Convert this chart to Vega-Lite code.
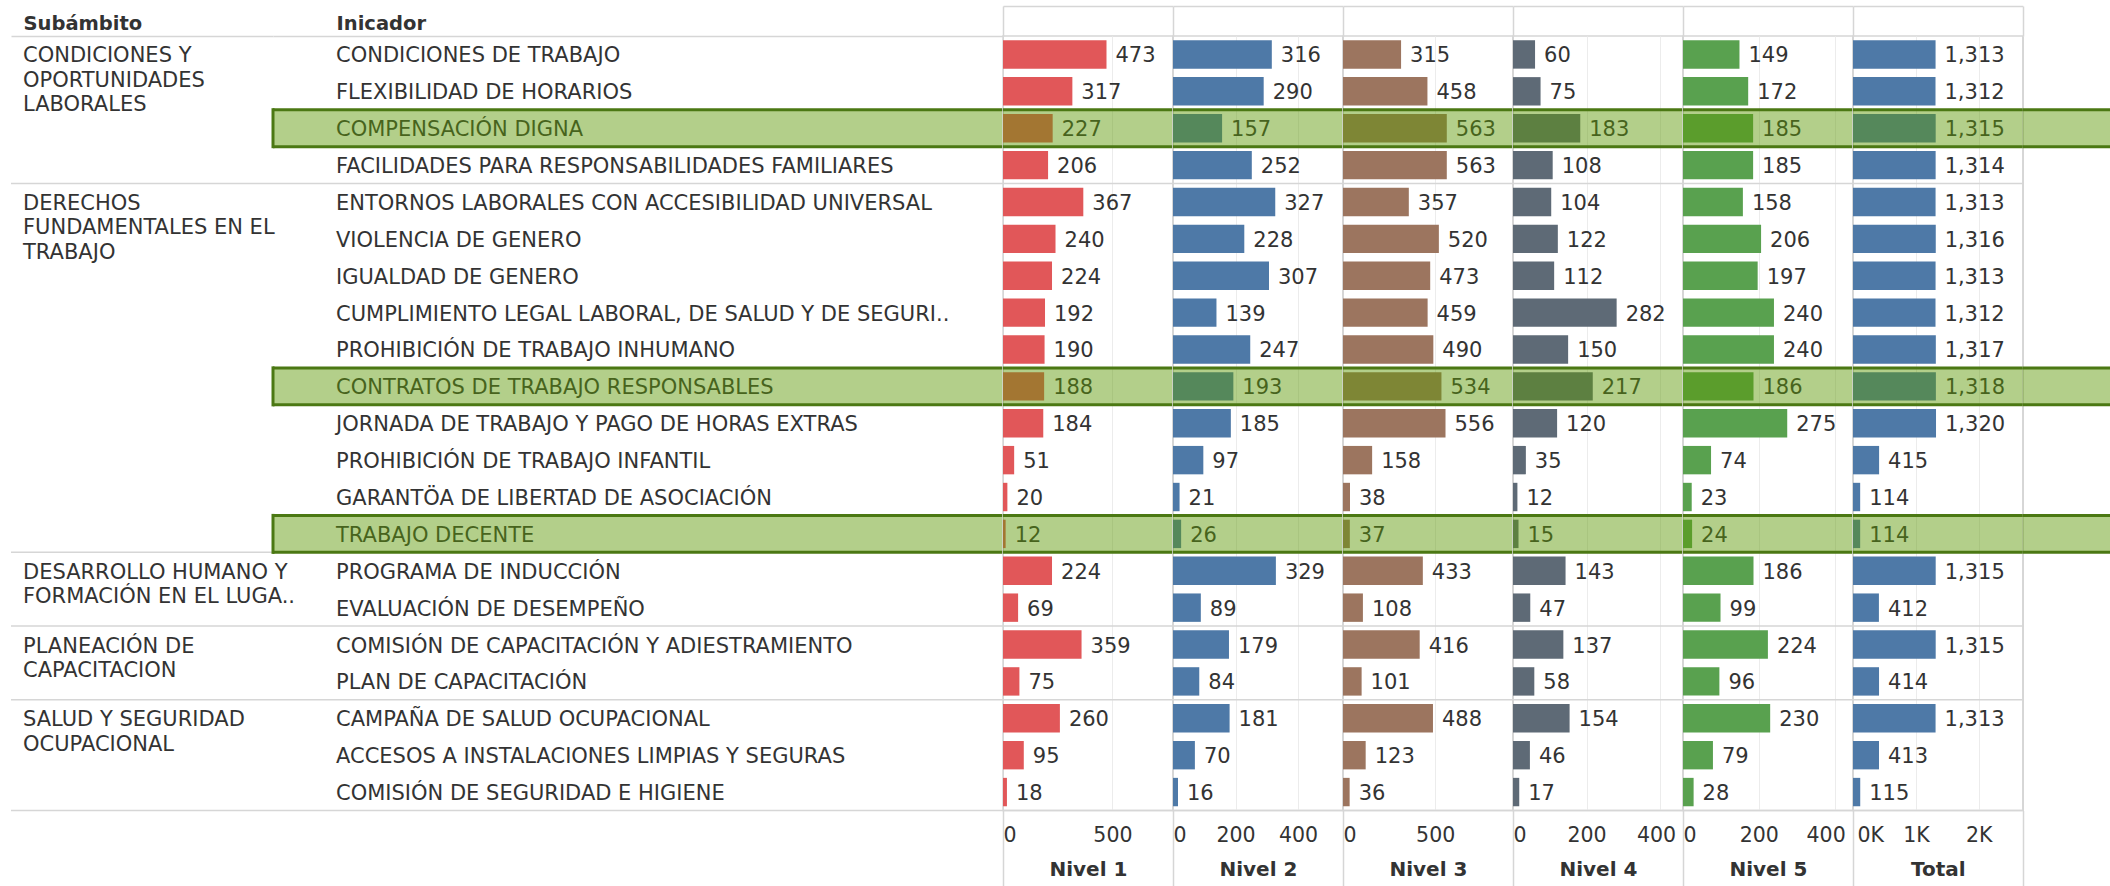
{
  "$schema": "https://vega.github.io/schema/vega-lite/v6.json",
  "background": "white",
  "padding": {"left": 10, "top": 4, "right": 0, "bottom": 0},
  "spacing": 0,
  "bounds": "flush",
  "datasets": {
    "d": [
      {"sub": "CONDICIONES Y\nOPORTUNIDADES\nLABORALES", "ind": "CONDICIONES DE TRABAJO", "n1": 473, "n2": 316, "n3": 315, "n4": 60, "n5": 149, "total": 1313},
      {"sub": "CONDICIONES Y\nOPORTUNIDADES\nLABORALES", "ind": "FLEXIBILIDAD DE HORARIOS", "n1": 317, "n2": 290, "n3": 458, "n4": 75, "n5": 172, "total": 1312},
      {"sub": "CONDICIONES Y\nOPORTUNIDADES\nLABORALES", "ind": "COMPENSACIÓN DIGNA", "n1": 227, "n2": 157, "n3": 563, "n4": 183, "n5": 185, "total": 1315},
      {"sub": "CONDICIONES Y\nOPORTUNIDADES\nLABORALES", "ind": "FACILIDADES PARA RESPONSABILIDADES FAMILIARES", "n1": 206, "n2": 252, "n3": 563, "n4": 108, "n5": 185, "total": 1314},
      {"sub": "DERECHOS\nFUNDAMENTALES EN EL\nTRABAJO", "ind": "ENTORNOS LABORALES CON ACCESIBILIDAD UNIVERSAL", "n1": 367, "n2": 327, "n3": 357, "n4": 104, "n5": 158, "total": 1313},
      {"sub": "DERECHOS\nFUNDAMENTALES EN EL\nTRABAJO", "ind": "VIOLENCIA DE GENERO", "n1": 240, "n2": 228, "n3": 520, "n4": 122, "n5": 206, "total": 1316},
      {"sub": "DERECHOS\nFUNDAMENTALES EN EL\nTRABAJO", "ind": "IGUALDAD DE GENERO", "n1": 224, "n2": 307, "n3": 473, "n4": 112, "n5": 197, "total": 1313},
      {"sub": "DERECHOS\nFUNDAMENTALES EN EL\nTRABAJO", "ind": "CUMPLIMIENTO LEGAL LABORAL, DE SALUD Y DE SEGURI..", "n1": 192, "n2": 139, "n3": 459, "n4": 282, "n5": 240, "total": 1312},
      {"sub": "DERECHOS\nFUNDAMENTALES EN EL\nTRABAJO", "ind": "PROHIBICIÓN DE TRABAJO INHUMANO", "n1": 190, "n2": 247, "n3": 490, "n4": 150, "n5": 240, "total": 1317},
      {"sub": "DERECHOS\nFUNDAMENTALES EN EL\nTRABAJO", "ind": "CONTRATOS DE TRABAJO RESPONSABLES", "n1": 188, "n2": 193, "n3": 534, "n4": 217, "n5": 186, "total": 1318},
      {"sub": "DERECHOS\nFUNDAMENTALES EN EL\nTRABAJO", "ind": "JORNADA DE TRABAJO Y PAGO DE HORAS EXTRAS", "n1": 184, "n2": 185, "n3": 556, "n4": 120, "n5": 275, "total": 1320},
      {"sub": "DERECHOS\nFUNDAMENTALES EN EL\nTRABAJO", "ind": "PROHIBICIÓN DE TRABAJO INFANTIL", "n1": 51, "n2": 97, "n3": 158, "n4": 35, "n5": 74, "total": 415},
      {"sub": "DERECHOS\nFUNDAMENTALES EN EL\nTRABAJO", "ind": "GARANTÖA DE LIBERTAD DE ASOCIACIÓN", "n1": 20, "n2": 21, "n3": 38, "n4": 12, "n5": 23, "total": 114},
      {"sub": "DERECHOS\nFUNDAMENTALES EN EL\nTRABAJO", "ind": "TRABAJO DECENTE", "n1": 12, "n2": 26, "n3": 37, "n4": 15, "n5": 24, "total": 114},
      {"sub": "DESARROLLO HUMANO Y\nFORMACIÓN EN EL LUGA..", "ind": "PROGRAMA DE INDUCCIÓN", "n1": 224, "n2": 329, "n3": 433, "n4": 143, "n5": 186, "total": 1315},
      {"sub": "DESARROLLO HUMANO Y\nFORMACIÓN EN EL LUGA..", "ind": "EVALUACIÓN DE DESEMPEÑO", "n1": 69, "n2": 89, "n3": 108, "n4": 47, "n5": 99, "total": 412},
      {"sub": "PLANEACIÓN DE\nCAPACITACION", "ind": "COMISIÓN DE CAPACITACIÓN Y ADIESTRAMIENTO", "n1": 359, "n2": 179, "n3": 416, "n4": 137, "n5": 224, "total": 1315},
      {"sub": "PLANEACIÓN DE\nCAPACITACION", "ind": "PLAN DE CAPACITACIÓN", "n1": 75, "n2": 84, "n3": 101, "n4": 58, "n5": 96, "total": 414},
      {"sub": "SALUD Y SEGURIDAD\nOCUPACIONAL", "ind": "CAMPAÑA DE SALUD OCUPACIONAL", "n1": 260, "n2": 181, "n3": 488, "n4": 154, "n5": 230, "total": 1313},
      {"sub": "SALUD Y SEGURIDAD\nOCUPACIONAL", "ind": "ACCESOS A INSTALACIONES LIMPIAS Y SEGURAS", "n1": 95, "n2": 70, "n3": 123, "n4": 46, "n5": 79, "total": 413},
      {"sub": "SALUD Y SEGURIDAD\nOCUPACIONAL", "ind": "COMISIÓN DE SEGURIDAD E HIGIENE", "n1": 18, "n2": 16, "n3": 36, "n4": 17, "n5": 28, "total": 115}
    ]
  },
  "data": {"name": "d"},
  "hconcat": [
    {
      "width": 262, "height": 774.5,
      "transform": [
        {"window": [{"op": "row_number", "as": "rn"}], "groupby": ["sub"]},
        {"joinaggregate": [{"op": "count", "as": "cnt"}], "groupby": ["sub"]}
      ],
      "layer": [
        {
          "mark": {"type": "text", "align": "left", "baseline": "alphabetic", "dx": 12, "dy": 8, "lineBreak": "\n", "lineHeight": 24.5, "font": "DejaVu Sans", "fontSize": 21, "color": "#333"},
          "encoding": {
            "x": {"datum": "Subámbito", "type": "nominal", "bandPosition": 0, "scale": {"type": "band", "paddingInner": 0, "paddingOuter": 0},
                  "axis": {"orient": "top", "title": "Subámbito", "titleAnchor": "start", "titleAlign": "left", "titleX": 12, "titleY": -7, "titleBaseline": "alphabetic", "titleFont": "DejaVu Sans", "titleFontWeight": "bold", "titleFontSize": 19.5, "titleColor": "#333", "labels": false, "ticks": false, "domain": true, "domainColor": "#d6d6d6", "domainWidth": 1.5}},
            "y": {"field": "ind", "type": "nominal", "sort": null, "axis": null, "scale": {"paddingInner": 0, "paddingOuter": 0}},
            "text": {"condition": {"test": "datum.rn === 1", "field": "sub"}, "value": ""}
          }
        },
        {
          "mark": {"type": "rule", "color": "#d6d6d6", "strokeWidth": 1.5},
          "encoding": {
            "y": {"field": "ind", "type": "nominal", "sort": null, "bandPosition": 1, "axis": null, "scale": {"paddingInner": 0, "paddingOuter": 0}},
            "strokeOpacity": {"condition": {"test": "datum.rn === datum.cnt", "value": 1}, "value": 0}
          }
        }
      ]
    },
    {
      "width": 730, "height": 774.5,
      "transform": [
        {"window": [{"op": "row_number", "as": "rn"}], "groupby": ["sub"]},
        {"joinaggregate": [{"op": "count", "as": "cnt"}], "groupby": ["sub"]}
      ],
      "layer": [
        {
          "mark": {"type": "text", "align": "left", "baseline": "alphabetic", "dx": 63, "dy": 8, "font": "DejaVu Sans", "fontSize": 21, "color": "#333"},
          "encoding": {
            "x": {"datum": "Inicador", "type": "nominal", "bandPosition": 0, "scale": {"type": "band", "paddingInner": 0, "paddingOuter": 0},
                  "axis": {"orient": "top", "title": "Inicador", "titleAnchor": "start", "titleAlign": "left", "titleX": 63, "titleY": -7, "titleBaseline": "alphabetic", "titleFont": "DejaVu Sans", "titleFontWeight": "bold", "titleFontSize": 19.5, "titleColor": "#333", "labels": false, "ticks": false, "domain": true, "domainColor": "#d6d6d6", "domainWidth": 1.5}},
            "y": {"field": "ind", "type": "nominal", "sort": null, "axis": null, "scale": {"paddingInner": 0, "paddingOuter": 0}},
            "text": {"field": "ind", "type": "nominal"}
          }
        },
        {
          "mark": {"type": "rule", "color": "#d6d6d6", "strokeWidth": 1.5},
          "encoding": {
            "y": {"field": "ind", "type": "nominal", "sort": null, "bandPosition": 1, "axis": null, "scale": {"paddingInner": 0, "paddingOuter": 0}},
            "strokeOpacity": {"condition": {"test": "datum.rn === datum.cnt", "value": 1}, "value": 0}
          }
        },
        {
          "mark": {"type": "rect", "color": "#5e9906"},
          "encoding": {
            "y": {"field": "ind", "type": "nominal", "sort": null, "axis": null, "scale": {"paddingInner": 0, "paddingOuter": 0}},
            "fillOpacity": {"condition": {"test": {"field": "ind", "oneOf": ["COMPENSACIÓN DIGNA", "CONTRATOS DE TRABAJO RESPONSABLES", "TRABAJO DECENTE"]}, "value": 0.47}, "value": 0}
          }
        },
        {
          "mark": {"type": "rule", "color": "#4b7813", "strokeWidth": 3},
          "encoding": {
            "y": {"field": "ind", "type": "nominal", "sort": null, "bandPosition": 0, "axis": null, "scale": {"paddingInner": 0, "paddingOuter": 0}},
            "strokeOpacity": {"condition": {"test": {"field": "ind", "oneOf": ["COMPENSACIÓN DIGNA", "CONTRATOS DE TRABAJO RESPONSABLES", "TRABAJO DECENTE"]}, "value": 1}, "value": 0}
          }
        },
        {
          "mark": {"type": "rule", "color": "#4b7813", "strokeWidth": 3},
          "encoding": {
            "y": {"field": "ind", "type": "nominal", "sort": null, "bandPosition": 1, "axis": null, "scale": {"paddingInner": 0, "paddingOuter": 0}},
            "strokeOpacity": {"condition": {"test": {"field": "ind", "oneOf": ["COMPENSACIÓN DIGNA", "CONTRATOS DE TRABAJO RESPONSABLES", "TRABAJO DECENTE"]}, "value": 1}, "value": 0}
          }
        },
        {
          "mark": {"type": "tick", "orient": "vertical", "color": "#4b7813", "thickness": 3, "size": 40},
          "encoding": {
            "x": {"datum": "Inicador", "type": "nominal", "bandPosition": 0, "scale": {"type": "band", "paddingInner": 0, "paddingOuter": 0},
                  "axis": {"orient": "top", "title": "Inicador", "titleAnchor": "start", "titleAlign": "left", "titleX": 63, "titleY": -7, "titleBaseline": "alphabetic", "titleFont": "DejaVu Sans", "titleFontWeight": "bold", "titleFontSize": 19.5, "titleColor": "#333", "labels": false, "ticks": false, "domain": true, "domainColor": "#d6d6d6", "domainWidth": 1.5}},
            "y": {"field": "ind", "type": "nominal", "sort": null, "axis": null, "scale": {"paddingInner": 0, "paddingOuter": 0}},
            "opacity": {"condition": {"test": {"field": "ind", "oneOf": ["COMPENSACIÓN DIGNA", "CONTRATOS DE TRABAJO RESPONSABLES", "TRABAJO DECENTE"]}, "value": 1}, "value": 0}
          }
        }
      ]
    },
    {
      "width": 169.8, "height": 774.5,
      "view": {"stroke": "#d6d6d6", "strokeWidth": 1.5},
      "transform": [
        {"window": [{"op": "row_number", "as": "rn"}], "groupby": ["sub"]},
        {"joinaggregate": [{"op": "count", "as": "cnt"}], "groupby": ["sub"]}
      ],
      "resolve": {"axis": {"x": "independent"}},
      "layer": [
        {
          "mark": {"type": "bar", "color": "#e15759", "height": {"band": 0.77}},
          "encoding": {
            "y": {"field": "ind", "type": "nominal", "sort": null, "axis": null, "scale": {"paddingInner": 0, "paddingOuter": 0}},
            "x": {"field": "n1", "type": "quantitative", "scale": {"domain": [0, 776], "nice": false},
                  "axis": {"orient": "bottom", "values": [0, 500], "title": "Nivel 1", "titleFontWeight": "bold", "titleFontSize": 20, "titleColor": "#333", "titleY": 59, "titleBaseline": "middle", "labelFontSize": 20.5, "labelColor": "#333", "labelPadding": -62, "labelAlign": {"condition": {"test": "datum.value === 0", "value": "left"}, "value": "center"}, "domain": false, "ticks": true, "tickSize": 77, "tickWidth": 1.5, "tickColor": {"condition": {"test": "datum.value === 0", "value": "#d6d6d6"}, "value": "transparent"}, "grid": true, "gridColor": {"condition": {"test": "datum.value === 0", "value": "#d6d6d6"}, "value": "#ececec"}}}
          }
        },
        {
          "mark": {"type": "text", "align": "left", "baseline": "alphabetic", "dx": 9, "dy": 8, "font": "DejaVu Sans", "fontSize": 21, "color": "#333"},
          "encoding": {
            "y": {"field": "ind", "type": "nominal", "sort": null, "axis": null, "scale": {"paddingInner": 0, "paddingOuter": 0}},
            "x": {"field": "n1", "type": "quantitative", "scale": {"domain": [0, 776], "nice": false},
                  "axis": {"orient": "top", "values": [0], "labels": false, "title": null, "grid": false, "domain": true, "domainColor": "#d6d6d6", "domainWidth": 1.5, "offset": 30, "ticks": true, "tickSize": -30, "tickWidth": 1.5, "tickColor": "#d6d6d6"}},
            "text": {"field": "n1", "type": "quantitative", "format": ","}
          }
        },
        {
          "mark": {"type": "rule", "color": "#d6d6d6", "strokeWidth": 1.5},
          "encoding": {
            "y": {"field": "ind", "type": "nominal", "sort": null, "bandPosition": 1, "axis": null, "scale": {"paddingInner": 0, "paddingOuter": 0}},
            "strokeOpacity": {"condition": {"test": "datum.rn === datum.cnt", "value": 1}, "value": 0}
          }
        },
        {
          "mark": {"type": "rect", "color": "#5e9906"},
          "encoding": {
            "y": {"field": "ind", "type": "nominal", "sort": null, "axis": null, "scale": {"paddingInner": 0, "paddingOuter": 0}},
            "fillOpacity": {"condition": {"test": {"field": "ind", "oneOf": ["COMPENSACIÓN DIGNA", "CONTRATOS DE TRABAJO RESPONSABLES", "TRABAJO DECENTE"]}, "value": 0.47}, "value": 0}
          }
        },
        {
          "mark": {"type": "rule", "color": "#4b7813", "strokeWidth": 3},
          "encoding": {
            "y": {"field": "ind", "type": "nominal", "sort": null, "bandPosition": 0, "axis": null, "scale": {"paddingInner": 0, "paddingOuter": 0}},
            "strokeOpacity": {"condition": {"test": {"field": "ind", "oneOf": ["COMPENSACIÓN DIGNA", "CONTRATOS DE TRABAJO RESPONSABLES", "TRABAJO DECENTE"]}, "value": 1}, "value": 0}
          }
        },
        {
          "mark": {"type": "rule", "color": "#4b7813", "strokeWidth": 3},
          "encoding": {
            "y": {"field": "ind", "type": "nominal", "sort": null, "bandPosition": 1, "axis": null, "scale": {"paddingInner": 0, "paddingOuter": 0}},
            "strokeOpacity": {"condition": {"test": {"field": "ind", "oneOf": ["COMPENSACIÓN DIGNA", "CONTRATOS DE TRABAJO RESPONSABLES", "TRABAJO DECENTE"]}, "value": 1}, "value": 0}
          }
        }
      ]
    },
    {
      "width": 169.8, "height": 774.5,
      "view": {"stroke": "#d6d6d6", "strokeWidth": 1.5},
      "transform": [
        {"window": [{"op": "row_number", "as": "rn"}], "groupby": ["sub"]},
        {"joinaggregate": [{"op": "count", "as": "cnt"}], "groupby": ["sub"]}
      ],
      "resolve": {"axis": {"x": "independent"}},
      "layer": [
        {
          "mark": {"type": "bar", "color": "#4e79a7", "height": {"band": 0.77}},
          "encoding": {
            "y": {"field": "ind", "type": "nominal", "sort": null, "axis": null, "scale": {"paddingInner": 0, "paddingOuter": 0}},
            "x": {"field": "n2", "type": "quantitative", "scale": {"domain": [0, 543], "nice": false},
                  "axis": {"orient": "bottom", "values": [0, 200, 400], "title": "Nivel 2", "titleFontWeight": "bold", "titleFontSize": 20, "titleColor": "#333", "titleY": 59, "titleBaseline": "middle", "labelFontSize": 20.5, "labelColor": "#333", "labelPadding": -62, "labelAlign": {"condition": {"test": "datum.value === 0", "value": "left"}, "value": "center"}, "domain": false, "ticks": true, "tickSize": 77, "tickWidth": 1.5, "tickColor": {"condition": {"test": "datum.value === 0", "value": "#d6d6d6"}, "value": "transparent"}, "grid": true, "gridColor": {"condition": {"test": "datum.value === 0", "value": "#d6d6d6"}, "value": "#ececec"}}}
          }
        },
        {
          "mark": {"type": "text", "align": "left", "baseline": "alphabetic", "dx": 9, "dy": 8, "font": "DejaVu Sans", "fontSize": 21, "color": "#333"},
          "encoding": {
            "y": {"field": "ind", "type": "nominal", "sort": null, "axis": null, "scale": {"paddingInner": 0, "paddingOuter": 0}},
            "x": {"field": "n2", "type": "quantitative", "scale": {"domain": [0, 543], "nice": false},
                  "axis": {"orient": "top", "values": [0], "labels": false, "title": null, "grid": false, "domain": true, "domainColor": "#d6d6d6", "domainWidth": 1.5, "offset": 30, "ticks": true, "tickSize": -30, "tickWidth": 1.5, "tickColor": "#d6d6d6"}},
            "text": {"field": "n2", "type": "quantitative", "format": ","}
          }
        },
        {
          "mark": {"type": "rule", "color": "#d6d6d6", "strokeWidth": 1.5},
          "encoding": {
            "y": {"field": "ind", "type": "nominal", "sort": null, "bandPosition": 1, "axis": null, "scale": {"paddingInner": 0, "paddingOuter": 0}},
            "strokeOpacity": {"condition": {"test": "datum.rn === datum.cnt", "value": 1}, "value": 0}
          }
        },
        {
          "mark": {"type": "rect", "color": "#5e9906"},
          "encoding": {
            "y": {"field": "ind", "type": "nominal", "sort": null, "axis": null, "scale": {"paddingInner": 0, "paddingOuter": 0}},
            "fillOpacity": {"condition": {"test": {"field": "ind", "oneOf": ["COMPENSACIÓN DIGNA", "CONTRATOS DE TRABAJO RESPONSABLES", "TRABAJO DECENTE"]}, "value": 0.47}, "value": 0}
          }
        },
        {
          "mark": {"type": "rule", "color": "#4b7813", "strokeWidth": 3},
          "encoding": {
            "y": {"field": "ind", "type": "nominal", "sort": null, "bandPosition": 0, "axis": null, "scale": {"paddingInner": 0, "paddingOuter": 0}},
            "strokeOpacity": {"condition": {"test": {"field": "ind", "oneOf": ["COMPENSACIÓN DIGNA", "CONTRATOS DE TRABAJO RESPONSABLES", "TRABAJO DECENTE"]}, "value": 1}, "value": 0}
          }
        },
        {
          "mark": {"type": "rule", "color": "#4b7813", "strokeWidth": 3},
          "encoding": {
            "y": {"field": "ind", "type": "nominal", "sort": null, "bandPosition": 1, "axis": null, "scale": {"paddingInner": 0, "paddingOuter": 0}},
            "strokeOpacity": {"condition": {"test": {"field": "ind", "oneOf": ["COMPENSACIÓN DIGNA", "CONTRATOS DE TRABAJO RESPONSABLES", "TRABAJO DECENTE"]}, "value": 1}, "value": 0}
          }
        }
      ]
    },
    {
      "width": 169.8, "height": 774.5,
      "view": {"stroke": "#d6d6d6", "strokeWidth": 1.5},
      "transform": [
        {"window": [{"op": "row_number", "as": "rn"}], "groupby": ["sub"]},
        {"joinaggregate": [{"op": "count", "as": "cnt"}], "groupby": ["sub"]}
      ],
      "resolve": {"axis": {"x": "independent"}},
      "layer": [
        {
          "mark": {"type": "bar", "color": "#9c755f", "height": {"band": 0.77}},
          "encoding": {
            "y": {"field": "ind", "type": "nominal", "sort": null, "axis": null, "scale": {"paddingInner": 0, "paddingOuter": 0}},
            "x": {"field": "n3", "type": "quantitative", "scale": {"domain": [0, 921], "nice": false},
                  "axis": {"orient": "bottom", "values": [0, 500], "title": "Nivel 3", "titleFontWeight": "bold", "titleFontSize": 20, "titleColor": "#333", "titleY": 59, "titleBaseline": "middle", "labelFontSize": 20.5, "labelColor": "#333", "labelPadding": -62, "labelAlign": {"condition": {"test": "datum.value === 0", "value": "left"}, "value": "center"}, "domain": false, "ticks": true, "tickSize": 77, "tickWidth": 1.5, "tickColor": {"condition": {"test": "datum.value === 0", "value": "#d6d6d6"}, "value": "transparent"}, "grid": true, "gridColor": {"condition": {"test": "datum.value === 0", "value": "#d6d6d6"}, "value": "#ececec"}}}
          }
        },
        {
          "mark": {"type": "text", "align": "left", "baseline": "alphabetic", "dx": 9, "dy": 8, "font": "DejaVu Sans", "fontSize": 21, "color": "#333"},
          "encoding": {
            "y": {"field": "ind", "type": "nominal", "sort": null, "axis": null, "scale": {"paddingInner": 0, "paddingOuter": 0}},
            "x": {"field": "n3", "type": "quantitative", "scale": {"domain": [0, 921], "nice": false},
                  "axis": {"orient": "top", "values": [0], "labels": false, "title": null, "grid": false, "domain": true, "domainColor": "#d6d6d6", "domainWidth": 1.5, "offset": 30, "ticks": true, "tickSize": -30, "tickWidth": 1.5, "tickColor": "#d6d6d6"}},
            "text": {"field": "n3", "type": "quantitative", "format": ","}
          }
        },
        {
          "mark": {"type": "rule", "color": "#d6d6d6", "strokeWidth": 1.5},
          "encoding": {
            "y": {"field": "ind", "type": "nominal", "sort": null, "bandPosition": 1, "axis": null, "scale": {"paddingInner": 0, "paddingOuter": 0}},
            "strokeOpacity": {"condition": {"test": "datum.rn === datum.cnt", "value": 1}, "value": 0}
          }
        },
        {
          "mark": {"type": "rect", "color": "#5e9906"},
          "encoding": {
            "y": {"field": "ind", "type": "nominal", "sort": null, "axis": null, "scale": {"paddingInner": 0, "paddingOuter": 0}},
            "fillOpacity": {"condition": {"test": {"field": "ind", "oneOf": ["COMPENSACIÓN DIGNA", "CONTRATOS DE TRABAJO RESPONSABLES", "TRABAJO DECENTE"]}, "value": 0.47}, "value": 0}
          }
        },
        {
          "mark": {"type": "rule", "color": "#4b7813", "strokeWidth": 3},
          "encoding": {
            "y": {"field": "ind", "type": "nominal", "sort": null, "bandPosition": 0, "axis": null, "scale": {"paddingInner": 0, "paddingOuter": 0}},
            "strokeOpacity": {"condition": {"test": {"field": "ind", "oneOf": ["COMPENSACIÓN DIGNA", "CONTRATOS DE TRABAJO RESPONSABLES", "TRABAJO DECENTE"]}, "value": 1}, "value": 0}
          }
        },
        {
          "mark": {"type": "rule", "color": "#4b7813", "strokeWidth": 3},
          "encoding": {
            "y": {"field": "ind", "type": "nominal", "sort": null, "bandPosition": 1, "axis": null, "scale": {"paddingInner": 0, "paddingOuter": 0}},
            "strokeOpacity": {"condition": {"test": {"field": "ind", "oneOf": ["COMPENSACIÓN DIGNA", "CONTRATOS DE TRABAJO RESPONSABLES", "TRABAJO DECENTE"]}, "value": 1}, "value": 0}
          }
        }
      ]
    },
    {
      "width": 169.8, "height": 774.5,
      "view": {"stroke": "#d6d6d6", "strokeWidth": 1.5},
      "transform": [
        {"window": [{"op": "row_number", "as": "rn"}], "groupby": ["sub"]},
        {"joinaggregate": [{"op": "count", "as": "cnt"}], "groupby": ["sub"]}
      ],
      "resolve": {"axis": {"x": "independent"}},
      "layer": [
        {
          "mark": {"type": "bar", "color": "#5e6a76", "height": {"band": 0.77}},
          "encoding": {
            "y": {"field": "ind", "type": "nominal", "sort": null, "axis": null, "scale": {"paddingInner": 0, "paddingOuter": 0}},
            "x": {"field": "n4", "type": "quantitative", "scale": {"domain": [0, 462], "nice": false},
                  "axis": {"orient": "bottom", "values": [0, 200, 400], "title": "Nivel 4", "titleFontWeight": "bold", "titleFontSize": 20, "titleColor": "#333", "titleY": 59, "titleBaseline": "middle", "labelFontSize": 20.5, "labelColor": "#333", "labelPadding": -62, "labelAlign": {"condition": {"test": "datum.value === 0", "value": "left"}, "value": "center"}, "labelOffset": {"condition": {"test": "datum.value === 400", "value": -4}, "value": 0}, "domain": false, "ticks": true, "tickSize": 77, "tickWidth": 1.5, "tickColor": {"condition": {"test": "datum.value === 0", "value": "#d6d6d6"}, "value": "transparent"}, "grid": true, "gridColor": {"condition": {"test": "datum.value === 0", "value": "#d6d6d6"}, "value": "#ececec"}}}
          }
        },
        {
          "mark": {"type": "text", "align": "left", "baseline": "alphabetic", "dx": 9, "dy": 8, "font": "DejaVu Sans", "fontSize": 21, "color": "#333"},
          "encoding": {
            "y": {"field": "ind", "type": "nominal", "sort": null, "axis": null, "scale": {"paddingInner": 0, "paddingOuter": 0}},
            "x": {"field": "n4", "type": "quantitative", "scale": {"domain": [0, 462], "nice": false},
                  "axis": {"orient": "top", "values": [0], "labels": false, "title": null, "grid": false, "domain": true, "domainColor": "#d6d6d6", "domainWidth": 1.5, "offset": 30, "ticks": true, "tickSize": -30, "tickWidth": 1.5, "tickColor": "#d6d6d6"}},
            "text": {"field": "n4", "type": "quantitative", "format": ","}
          }
        },
        {
          "mark": {"type": "rule", "color": "#d6d6d6", "strokeWidth": 1.5},
          "encoding": {
            "y": {"field": "ind", "type": "nominal", "sort": null, "bandPosition": 1, "axis": null, "scale": {"paddingInner": 0, "paddingOuter": 0}},
            "strokeOpacity": {"condition": {"test": "datum.rn === datum.cnt", "value": 1}, "value": 0}
          }
        },
        {
          "mark": {"type": "rect", "color": "#5e9906"},
          "encoding": {
            "y": {"field": "ind", "type": "nominal", "sort": null, "axis": null, "scale": {"paddingInner": 0, "paddingOuter": 0}},
            "fillOpacity": {"condition": {"test": {"field": "ind", "oneOf": ["COMPENSACIÓN DIGNA", "CONTRATOS DE TRABAJO RESPONSABLES", "TRABAJO DECENTE"]}, "value": 0.47}, "value": 0}
          }
        },
        {
          "mark": {"type": "rule", "color": "#4b7813", "strokeWidth": 3},
          "encoding": {
            "y": {"field": "ind", "type": "nominal", "sort": null, "bandPosition": 0, "axis": null, "scale": {"paddingInner": 0, "paddingOuter": 0}},
            "strokeOpacity": {"condition": {"test": {"field": "ind", "oneOf": ["COMPENSACIÓN DIGNA", "CONTRATOS DE TRABAJO RESPONSABLES", "TRABAJO DECENTE"]}, "value": 1}, "value": 0}
          }
        },
        {
          "mark": {"type": "rule", "color": "#4b7813", "strokeWidth": 3},
          "encoding": {
            "y": {"field": "ind", "type": "nominal", "sort": null, "bandPosition": 1, "axis": null, "scale": {"paddingInner": 0, "paddingOuter": 0}},
            "strokeOpacity": {"condition": {"test": {"field": "ind", "oneOf": ["COMPENSACIÓN DIGNA", "CONTRATOS DE TRABAJO RESPONSABLES", "TRABAJO DECENTE"]}, "value": 1}, "value": 0}
          }
        }
      ]
    },
    {
      "width": 169.8, "height": 774.5,
      "view": {"stroke": "#d6d6d6", "strokeWidth": 1.5},
      "transform": [
        {"window": [{"op": "row_number", "as": "rn"}], "groupby": ["sub"]},
        {"joinaggregate": [{"op": "count", "as": "cnt"}], "groupby": ["sub"]}
      ],
      "resolve": {"axis": {"x": "independent"}},
      "layer": [
        {
          "mark": {"type": "bar", "color": "#59a14f", "height": {"band": 0.77}},
          "encoding": {
            "y": {"field": "ind", "type": "nominal", "sort": null, "axis": null, "scale": {"paddingInner": 0, "paddingOuter": 0}},
            "x": {"field": "n5", "type": "quantitative", "scale": {"domain": [0, 448], "nice": false},
                  "axis": {"orient": "bottom", "values": [0, 200, 400], "title": "Nivel 5", "titleFontWeight": "bold", "titleFontSize": 20, "titleColor": "#333", "titleY": 59, "titleBaseline": "middle", "labelFontSize": 20.5, "labelColor": "#333", "labelPadding": -62, "labelAlign": {"condition": {"test": "datum.value === 0", "value": "left"}, "value": "center"}, "labelOffset": {"condition": {"test": "datum.value === 400", "value": -9}, "value": 0}, "domain": false, "ticks": true, "tickSize": 77, "tickWidth": 1.5, "tickColor": {"condition": {"test": "datum.value === 0", "value": "#d6d6d6"}, "value": "transparent"}, "grid": true, "gridColor": {"condition": {"test": "datum.value === 0", "value": "#d6d6d6"}, "value": "#ececec"}}}
          }
        },
        {
          "mark": {"type": "text", "align": "left", "baseline": "alphabetic", "dx": 9, "dy": 8, "font": "DejaVu Sans", "fontSize": 21, "color": "#333"},
          "encoding": {
            "y": {"field": "ind", "type": "nominal", "sort": null, "axis": null, "scale": {"paddingInner": 0, "paddingOuter": 0}},
            "x": {"field": "n5", "type": "quantitative", "scale": {"domain": [0, 448], "nice": false},
                  "axis": {"orient": "top", "values": [0], "labels": false, "title": null, "grid": false, "domain": true, "domainColor": "#d6d6d6", "domainWidth": 1.5, "offset": 30, "ticks": true, "tickSize": -30, "tickWidth": 1.5, "tickColor": "#d6d6d6"}},
            "text": {"field": "n5", "type": "quantitative", "format": ","}
          }
        },
        {
          "mark": {"type": "rule", "color": "#d6d6d6", "strokeWidth": 1.5},
          "encoding": {
            "y": {"field": "ind", "type": "nominal", "sort": null, "bandPosition": 1, "axis": null, "scale": {"paddingInner": 0, "paddingOuter": 0}},
            "strokeOpacity": {"condition": {"test": "datum.rn === datum.cnt", "value": 1}, "value": 0}
          }
        },
        {
          "mark": {"type": "rect", "color": "#5e9906"},
          "encoding": {
            "y": {"field": "ind", "type": "nominal", "sort": null, "axis": null, "scale": {"paddingInner": 0, "paddingOuter": 0}},
            "fillOpacity": {"condition": {"test": {"field": "ind", "oneOf": ["COMPENSACIÓN DIGNA", "CONTRATOS DE TRABAJO RESPONSABLES", "TRABAJO DECENTE"]}, "value": 0.47}, "value": 0}
          }
        },
        {
          "mark": {"type": "rule", "color": "#4b7813", "strokeWidth": 3},
          "encoding": {
            "y": {"field": "ind", "type": "nominal", "sort": null, "bandPosition": 0, "axis": null, "scale": {"paddingInner": 0, "paddingOuter": 0}},
            "strokeOpacity": {"condition": {"test": {"field": "ind", "oneOf": ["COMPENSACIÓN DIGNA", "CONTRATOS DE TRABAJO RESPONSABLES", "TRABAJO DECENTE"]}, "value": 1}, "value": 0}
          }
        },
        {
          "mark": {"type": "rule", "color": "#4b7813", "strokeWidth": 3},
          "encoding": {
            "y": {"field": "ind", "type": "nominal", "sort": null, "bandPosition": 1, "axis": null, "scale": {"paddingInner": 0, "paddingOuter": 0}},
            "strokeOpacity": {"condition": {"test": {"field": "ind", "oneOf": ["COMPENSACIÓN DIGNA", "CONTRATOS DE TRABAJO RESPONSABLES", "TRABAJO DECENTE"]}, "value": 1}, "value": 0}
          }
        }
      ]
    },
    {
      "width": 169.8, "height": 774.5,
      "view": {"stroke": "#d6d6d6", "strokeWidth": 1.5},
      "transform": [
        {"window": [{"op": "row_number", "as": "rn"}], "groupby": ["sub"]},
        {"joinaggregate": [{"op": "count", "as": "cnt"}], "groupby": ["sub"]}
      ],
      "resolve": {"axis": {"x": "independent"}},
      "layer": [
        {
          "mark": {"type": "bar", "color": "#4e79a7", "height": {"band": 0.77}},
          "encoding": {
            "y": {"field": "ind", "type": "nominal", "sort": null, "axis": null, "scale": {"paddingInner": 0, "paddingOuter": 0}},
            "x": {"field": "total", "type": "quantitative", "scale": {"domain": [0, 2700], "nice": false},
                  "axis": {"orient": "bottom", "values": [0, 1000, 2000, 2700], "labelExpr": "datum.value > 2500 ? '' : format(datum.value / 1000, 'd') + 'K'", "title": "Total", "titleFontWeight": "bold", "titleFontSize": 20, "titleColor": "#333", "titleY": 59, "titleBaseline": "middle", "labelFontSize": 20.5, "labelColor": "#333", "labelPadding": -62, "labelAlign": {"condition": {"test": "datum.value === 0", "value": "left"}, "value": "center"}, "labelOffset": {"condition": {"test": "datum.value === 0", "value": 4}, "value": 0}, "domain": false, "ticks": true, "tickSize": 77, "tickWidth": 1.5, "tickColor": {"condition": {"test": "datum.value === 0 || datum.value === 2700", "value": "#d6d6d6"}, "value": "transparent"}, "grid": true, "gridColor": {"condition": {"test": "datum.value === 0 || datum.value === 2700", "value": "#d6d6d6"}, "value": "#ececec"}}}
          }
        },
        {
          "mark": {"type": "text", "align": "left", "baseline": "alphabetic", "dx": 9, "dy": 8, "font": "DejaVu Sans", "fontSize": 21, "color": "#333"},
          "encoding": {
            "y": {"field": "ind", "type": "nominal", "sort": null, "axis": null, "scale": {"paddingInner": 0, "paddingOuter": 0}},
            "x": {"field": "total", "type": "quantitative", "scale": {"domain": [0, 2700], "nice": false},
                  "axis": {"orient": "top", "values": [0, 2700], "labels": false, "title": null, "grid": false, "domain": true, "domainColor": "#d6d6d6", "domainWidth": 1.5, "offset": 30, "ticks": true, "tickSize": -30, "tickWidth": 1.5, "tickColor": "#d6d6d6"}},
            "text": {"field": "total", "type": "quantitative", "format": ","}
          }
        },
        {
          "mark": {"type": "rule", "color": "#d6d6d6", "strokeWidth": 1.5},
          "encoding": {
            "y": {"field": "ind", "type": "nominal", "sort": null, "bandPosition": 1, "axis": null, "scale": {"paddingInner": 0, "paddingOuter": 0}},
            "strokeOpacity": {"condition": {"test": "datum.rn === datum.cnt", "value": 1}, "value": 0}
          }
        },
        {
          "mark": {"type": "rect", "color": "#5e9906"},
          "encoding": {
            "y": {"field": "ind", "type": "nominal", "sort": null, "axis": null, "scale": {"paddingInner": 0, "paddingOuter": 0}},
            "fillOpacity": {"condition": {"test": {"field": "ind", "oneOf": ["COMPENSACIÓN DIGNA", "CONTRATOS DE TRABAJO RESPONSABLES", "TRABAJO DECENTE"]}, "value": 0.47}, "value": 0}
          }
        },
        {
          "mark": {"type": "rule", "color": "#4b7813", "strokeWidth": 3},
          "encoding": {
            "y": {"field": "ind", "type": "nominal", "sort": null, "bandPosition": 0, "axis": null, "scale": {"paddingInner": 0, "paddingOuter": 0}},
            "strokeOpacity": {"condition": {"test": {"field": "ind", "oneOf": ["COMPENSACIÓN DIGNA", "CONTRATOS DE TRABAJO RESPONSABLES", "TRABAJO DECENTE"]}, "value": 1}, "value": 0}
          }
        },
        {
          "mark": {"type": "rule", "color": "#4b7813", "strokeWidth": 3},
          "encoding": {
            "y": {"field": "ind", "type": "nominal", "sort": null, "bandPosition": 1, "axis": null, "scale": {"paddingInner": 0, "paddingOuter": 0}},
            "strokeOpacity": {"condition": {"test": {"field": "ind", "oneOf": ["COMPENSACIÓN DIGNA", "CONTRATOS DE TRABAJO RESPONSABLES", "TRABAJO DECENTE"]}, "value": 1}, "value": 0}
          }
        }
      ]
    },
    {
      "width": 89.2, "height": 774.5,
      "layer": [
        {
          "mark": {"type": "rect", "color": "#5e9906"},
          "encoding": {
            "y": {"field": "ind", "type": "nominal", "sort": null, "axis": null, "scale": {"paddingInner": 0, "paddingOuter": 0}},
            "fillOpacity": {"condition": {"test": {"field": "ind", "oneOf": ["COMPENSACIÓN DIGNA", "CONTRATOS DE TRABAJO RESPONSABLES", "TRABAJO DECENTE"]}, "value": 0.47}, "value": 0}
          }
        },
        {
          "mark": {"type": "rule", "color": "#4b7813", "strokeWidth": 3},
          "encoding": {
            "y": {"field": "ind", "type": "nominal", "sort": null, "bandPosition": 0, "axis": null, "scale": {"paddingInner": 0, "paddingOuter": 0}},
            "strokeOpacity": {"condition": {"test": {"field": "ind", "oneOf": ["COMPENSACIÓN DIGNA", "CONTRATOS DE TRABAJO RESPONSABLES", "TRABAJO DECENTE"]}, "value": 1}, "value": 0}
          }
        },
        {
          "mark": {"type": "rule", "color": "#4b7813", "strokeWidth": 3},
          "encoding": {
            "y": {"field": "ind", "type": "nominal", "sort": null, "bandPosition": 1, "axis": null, "scale": {"paddingInner": 0, "paddingOuter": 0}},
            "strokeOpacity": {"condition": {"test": {"field": "ind", "oneOf": ["COMPENSACIÓN DIGNA", "CONTRATOS DE TRABAJO RESPONSABLES", "TRABAJO DECENTE"]}, "value": 1}, "value": 0}
          }
        }
      ]
    }
  ],
  "config": {
    "view": {"stroke": null},
    "font": "DejaVu Sans",
    "axis": {"labelFont": "DejaVu Sans", "titleFont": "DejaVu Sans"}
  }
}
